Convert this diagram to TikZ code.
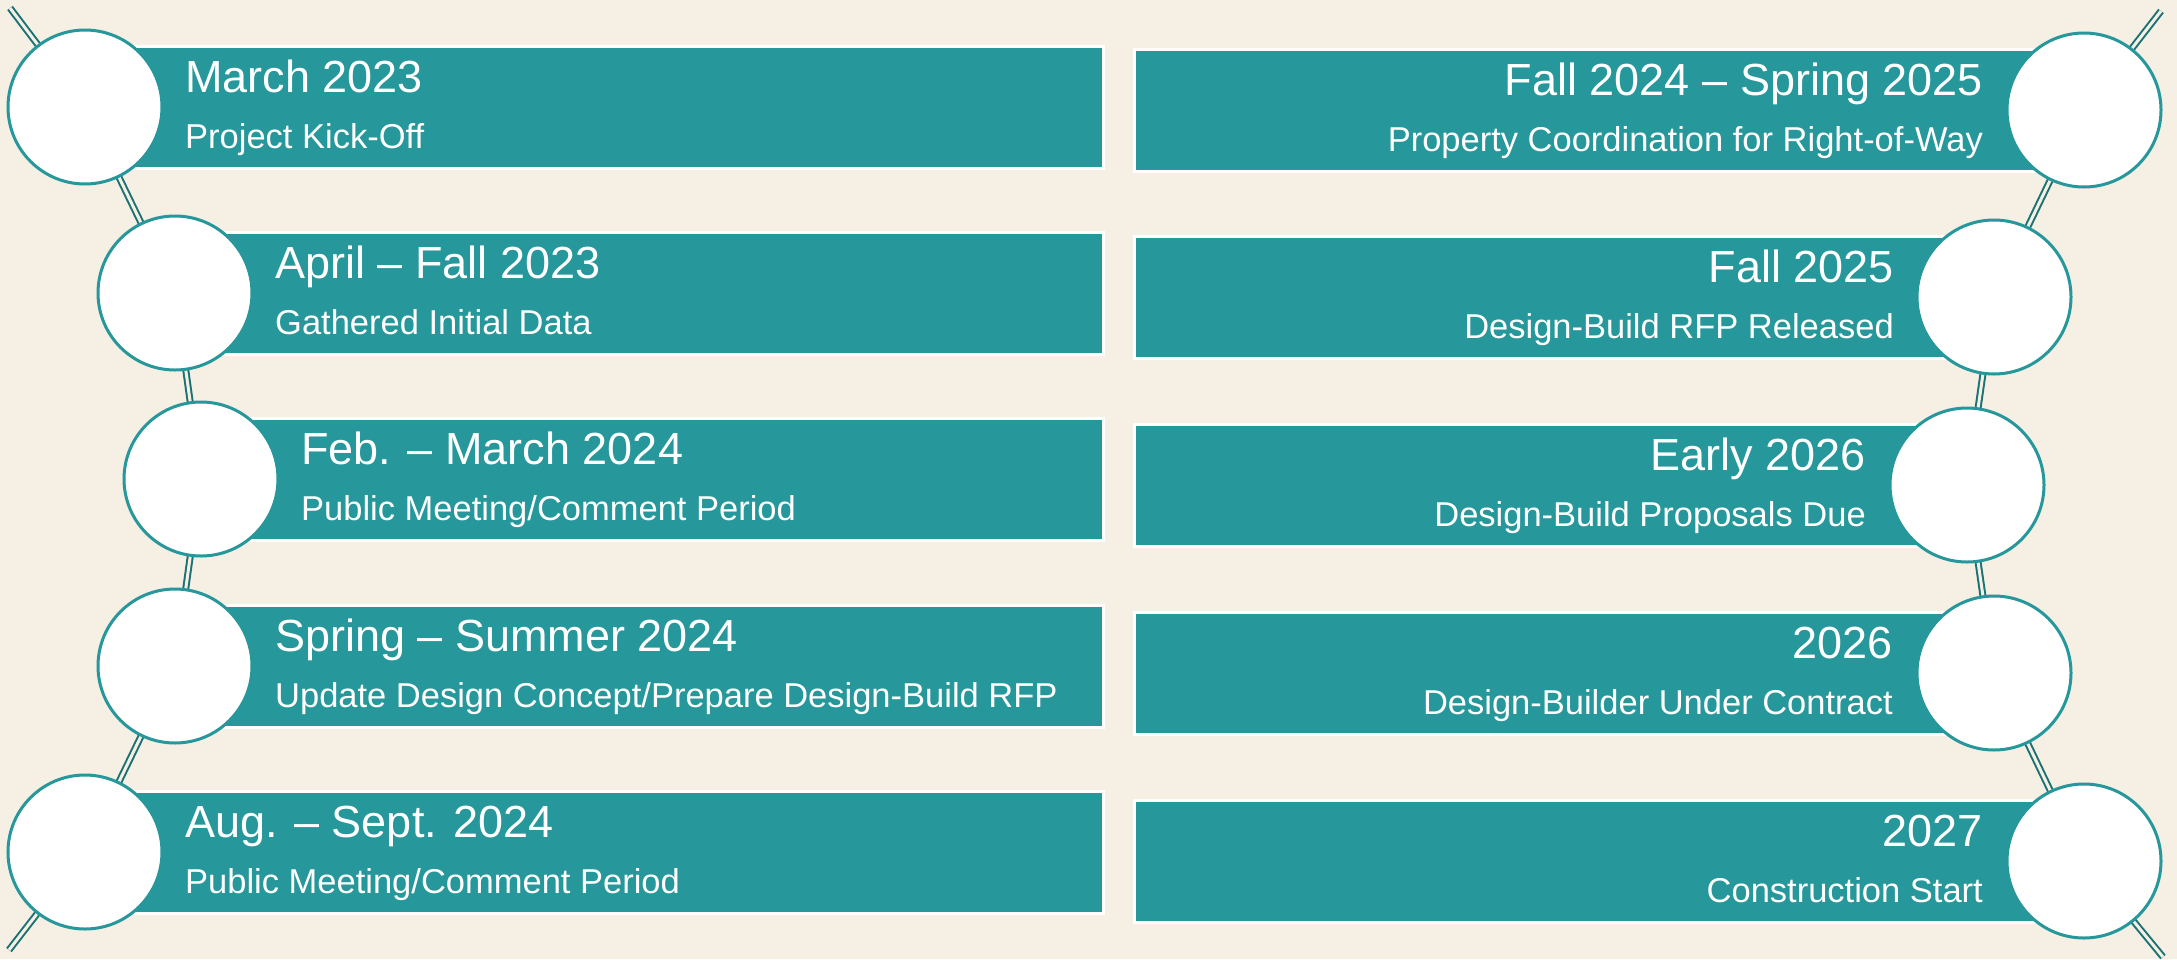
\documentclass[tikz,border=0pt]{standalone}
\usepackage{fontspec}
\setmainfont{Liberation Sans}
\definecolor{bgc}{HTML}{F5EFE4}
\definecolor{tealf}{HTML}{26979A}
\definecolor{darkt}{HTML}{1B7274}
\pgfdeclarelayer{back}
\pgfsetlayers{back,main}
\begin{document}
\begin{tikzpicture}[x=1pt,y=-1pt,
  bar/.style={draw=white, line width=3pt, fill=tealf, inner sep=0pt, minimum height=122pt},
  dot/.style={circle, draw=tealf, line width=3pt, fill=white, minimum size=154pt, inner sep=0pt},
  link/.style={draw=darkt, line width=2pt, double=bgc, double distance=3pt},
  ttl/.style={text=white, font=\fontsize{45}{54}\selectfont, inner sep=0pt},
  sub/.style={text=white, font=\fontsize{34.5}{41}\selectfont, inner sep=0pt}]
\useasboundingbox (0,0) rectangle (2177,959);

% left bars
\node[bar, anchor=west, minimum width=1017pt] (lb1) at (85,107) {};
\node[bar, anchor=west, minimum width=927pt] (lb2) at (175,293) {};
\node[bar, anchor=west, minimum width=901pt] (lb3) at (201,479) {};
\node[bar, anchor=west, minimum width=927pt] (lb4) at (175,666) {};
\node[bar, anchor=west, minimum width=1017pt] (lb5) at (85,852) {};
% right bars
\node[bar, anchor=east, minimum width=948pt] (rb1) at (2084,110) {};
\node[bar, anchor=east, minimum width=858pt] (rb2) at (1994,297) {};
\node[bar, anchor=east, minimum width=831pt] (rb3) at (1967,485) {};
\node[bar, anchor=east, minimum width=858pt] (rb4) at (1994,673) {};
\node[bar, anchor=east, minimum width=948pt] (rb5) at (2084,861) {};

% circles
\node[dot] (l1) at (85,107) {};
\node[dot] (l2) at (175,293) {};
\node[dot] (l3) at (201,479) {};
\node[dot] (l4) at (175,666) {};
\node[dot] (l5) at (85,852) {};
\node[dot] (r1) at (2084,110) {};
\node[dot] (r2) at (1994,297) {};
\node[dot] (r3) at (1967,485) {};
\node[dot] (r4) at (1994,673) {};
\node[dot] (r5) at (2084,861) {};

% free ends
\coordinate (lt) at (10,8);
\coordinate (lbt) at (9,950);
\coordinate (rt) at (2161,11);
\coordinate (rbt) at (2163,957);

% left texts
\node[ttl, anchor=base west] (lt1) at (185,92) {March 2023};
\node[sub, anchor=base west] (ls1) at (185,148) {Project Kick-Off};
\node[ttl, anchor=base west] (lt2) at (275,278) {April – Fall 2023};
\node[sub, anchor=base west] (ls2) at (275,334) {Gathered Initial Data};
\node[ttl, anchor=base west] (lt3) at (301,464) {Feb. – March 2024};
\node[sub, anchor=base west] (ls3) at (301,520) {Public Meeting/Comment Period};
\node[ttl, anchor=base west] (lt4) at (275,651) {Spring – Summer 2024};
\node[sub, anchor=base west] (ls4) at (275,707) {Update Design Concept/Prepare Design-Build RFP};
\node[ttl, anchor=base west] (lt5) at (185,837) {Aug. – Sept. 2024};
\node[sub, anchor=base west] (ls5) at (185,893) {Public Meeting/Comment Period};

% right texts
\node[ttl, anchor=base east] (rt1) at (1983,95) {Fall 2024 – Spring 2025};
\node[sub, anchor=base east] (rs1) at (1983,151) {Property Coordination for Right-of-Way};
\node[ttl, anchor=base east] (rt2) at (1894,282) {Fall 2025};
\node[sub, anchor=base east] (rs2) at (1894,338) {Design-Build RFP Released};
\node[ttl, anchor=base east] (rt3) at (1866,470) {Early 2026};
\node[sub, anchor=base east] (rs3) at (1866,526) {Design-Build Proposals Due};
\node[ttl, anchor=base east] (rt4) at (1893,658) {2026};
\node[sub, anchor=base east] (rs4) at (1893,714) {Design-Builder Under Contract};
\node[ttl, anchor=base east] (rt5) at (1983,846) {2027};
\node[sub, anchor=base east] (rs5) at (1983,902) {Construction Start};

\begin{pgfonlayer}{back}
  \fill[bgc] (0,0) rectangle (2177,959);
  \draw[link] (lt) -- (l1.center) -- (l2.center) -- (l3.center) -- (l4.center) -- (l5.center) -- (lbt);
  \draw[link] (rt) -- (r1.center) -- (r2.center) -- (r3.center) -- (r4.center) -- (r5.center) -- (rbt);
\end{pgfonlayer}
\end{tikzpicture}
\end{document}
